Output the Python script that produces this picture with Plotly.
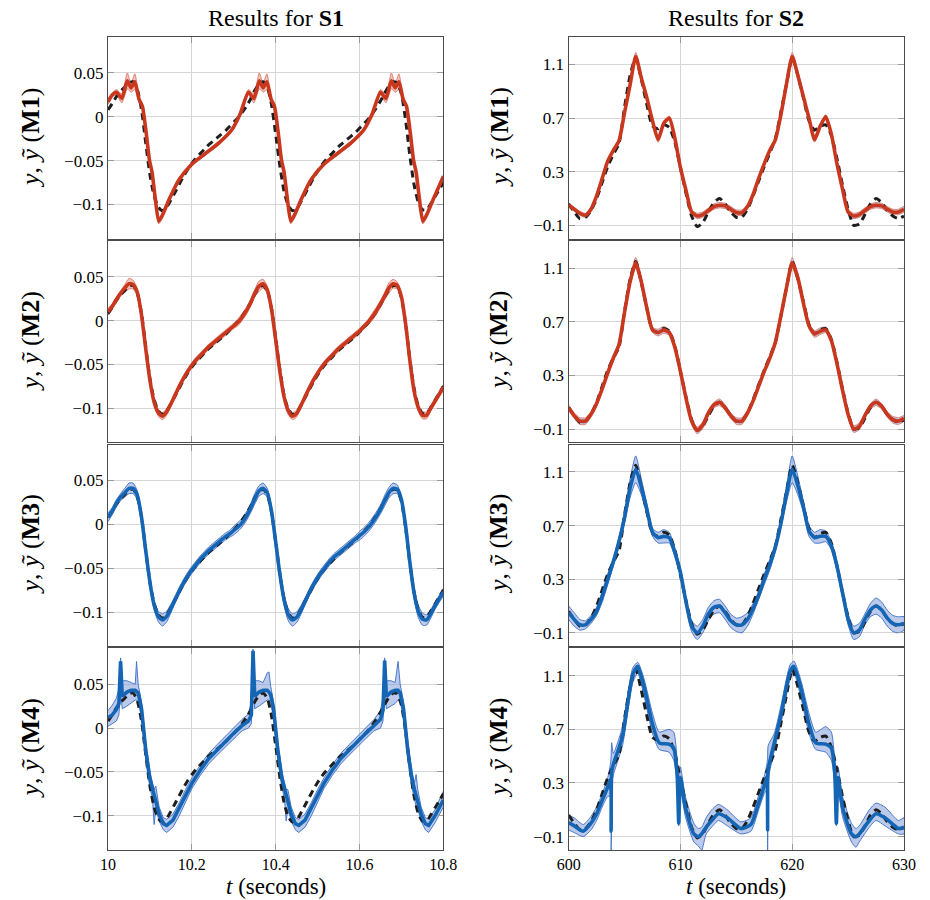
import plotly.graph_objects as go
from plotly.subplots import make_subplots

# ---------------- S1 (left column) ----------------
T_S1 = [10.00, 10.01, 10.02, 10.03, 10.04, 10.05, 10.06, 10.07, 10.08, 10.09,
        10.10, 10.11, 10.12, 10.13, 10.14, 10.15, 10.16, 10.17, 10.18, 10.19,
        10.20, 10.21, 10.22, 10.23, 10.24, 10.25, 10.26, 10.27, 10.28, 10.29,
        10.30, 10.31, 10.32, 10.33, 10.34, 10.35, 10.36, 10.37, 10.38, 10.39,
        10.40, 10.41, 10.42, 10.43, 10.44, 10.45, 10.46, 10.47, 10.48, 10.49,
        10.50, 10.51, 10.52, 10.53, 10.54, 10.55, 10.56, 10.57, 10.58, 10.59,
        10.60, 10.61, 10.62, 10.63, 10.64, 10.65, 10.66, 10.67, 10.68, 10.69,
        10.70, 10.71, 10.72, 10.73, 10.74, 10.75, 10.76, 10.77, 10.78, 10.79,
        10.80]

Y_TRUE_S1 = [0.008, 0.015, 0.023, 0.029, 0.034, 0.039, 0.040, 0.031, 0.008, -0.030,
             -0.066, -0.090, -0.103, -0.107, -0.103, -0.095, -0.086, -0.077, -0.068, -0.060,
             -0.053, -0.047, -0.042, -0.037, -0.032, -0.028, -0.024, -0.020, -0.016, -0.011,
             -0.006, -0.001, 0.005, 0.012, 0.020, 0.030, 0.037, 0.040, 0.034, 0.014,
             -0.020, -0.056, -0.085, -0.101, -0.107, -0.105, -0.097, -0.088, -0.079, -0.070,
             -0.062, -0.055, -0.049, -0.044, -0.039, -0.034, -0.030, -0.026, -0.022, -0.018,
             -0.013, -0.008, -0.003, 0.003, 0.010, 0.018, 0.027, 0.035, 0.040, 0.039,
             0.026, -0.004, -0.044, -0.077, -0.097, -0.106, -0.106, -0.099, -0.091, -0.083,
             -0.075]

# M1 on S1 (own time samples)
T_M1_S1 = [10.000, 10.010, 10.020, 10.033, 10.046, 10.055, 10.064, 10.074, 10.082, 10.091,
           10.099, 10.105, 10.113, 10.121, 10.130, 10.146, 10.169, 10.200, 10.232, 10.264,
           10.295, 10.315, 10.335, 10.348, 10.361, 10.370, 10.379, 10.389, 10.397, 10.406,
           10.414, 10.420, 10.428, 10.436, 10.445, 10.461, 10.484, 10.515, 10.547, 10.579,
           10.610, 10.630, 10.650, 10.663, 10.676, 10.685, 10.694, 10.704, 10.712, 10.721,
           10.729, 10.735, 10.743, 10.751, 10.760, 10.776, 10.800]
Y_M1_S1 = [0.017, 0.025, 0.028, 0.021, 0.041, 0.033, 0.040, 0.020, 0.012, -0.018,
           -0.050, -0.063, -0.094, -0.119, -0.112, -0.094, -0.072, -0.054, -0.042, -0.030,
           -0.015, 0.003, 0.028, 0.021, 0.041, 0.033, 0.040, 0.020, 0.012, -0.018,
           -0.050, -0.063, -0.094, -0.119, -0.112, -0.094, -0.072, -0.054, -0.042, -0.030,
           -0.015, 0.003, 0.028, 0.021, 0.041, 0.033, 0.040, 0.020, 0.012, -0.018,
           -0.050, -0.063, -0.094, -0.119, -0.112, -0.094, -0.068]
HW_M1_S1 = [0.003, 0.002, 0.003, 0.005, 0.009, 0.005, 0.009, 0.003, 0.002, 0.002,
            0.002, 0.002, 0.002, 0.003, 0.003, 0.002, 0.002, 0.002, 0.002, 0.002,
            0.002, 0.002, 0.003, 0.005, 0.009, 0.005, 0.009, 0.003, 0.002, 0.002,
            0.002, 0.002, 0.002, 0.003, 0.003, 0.002, 0.002, 0.002, 0.002, 0.002,
            0.002, 0.002, 0.003, 0.005, 0.009, 0.005, 0.009, 0.003, 0.002, 0.002,
            0.002, 0.002, 0.002, 0.003, 0.003, 0.002, 0.002]

Y_M2_S1 = [0.010, 0.016, 0.024, 0.031, 0.037, 0.042, 0.041, 0.032, 0.006, -0.032,
           -0.068, -0.093, -0.105, -0.109, -0.104, -0.095, -0.085, -0.075, -0.066, -0.058,
           -0.051, -0.045, -0.040, -0.035, -0.030, -0.026, -0.022, -0.018, -0.014, -0.010,
           -0.006, -0.002, 0.004, 0.011, 0.020, 0.031, 0.039, 0.042, 0.035, 0.013,
           -0.022, -0.058, -0.087, -0.103, -0.109, -0.106, -0.097, -0.087, -0.077, -0.068,
           -0.060, -0.053, -0.047, -0.042, -0.037, -0.032, -0.028, -0.024, -0.020, -0.016,
           -0.012, -0.007, -0.002, 0.004, 0.011, 0.019, 0.028, 0.037, 0.042, 0.040,
           0.027, -0.004, -0.045, -0.080, -0.099, -0.108, -0.108, -0.100, -0.092, -0.084,
           -0.076]
HW_M2_S1 = [0.004, 0.003, 0.003, 0.003, 0.004, 0.006, 0.005, 0.004, 0.003, 0.003,
            0.003, 0.003, 0.004, 0.004, 0.004, 0.003, 0.003, 0.003, 0.003, 0.003,
            0.003, 0.003, 0.003, 0.003, 0.003, 0.003, 0.003, 0.003, 0.003, 0.003,
            0.003, 0.004, 0.004, 0.004, 0.004, 0.004, 0.006, 0.005, 0.004, 0.003,
            0.003, 0.003, 0.003, 0.004, 0.004, 0.004, 0.003, 0.003, 0.003, 0.003,
            0.003, 0.003, 0.003, 0.003, 0.003, 0.003, 0.003, 0.003, 0.003, 0.003,
            0.003, 0.003, 0.003, 0.004, 0.004, 0.004, 0.004, 0.006, 0.005, 0.004,
            0.003, 0.003, 0.003, 0.003, 0.004, 0.004, 0.004, 0.003, 0.003, 0.003,
            0.003]

Y_M3_S1 = [0.008, 0.015, 0.024, 0.031, 0.036, 0.041, 0.041, 0.033, 0.008, -0.030,
           -0.066, -0.092, -0.105, -0.109, -0.105, -0.096, -0.086, -0.076, -0.067, -0.059,
           -0.052, -0.046, -0.040, -0.035, -0.030, -0.026, -0.022, -0.018, -0.014, -0.011,
           -0.007, -0.003, 0.002, 0.009, 0.018, 0.029, 0.038, 0.041, 0.036, 0.015,
           -0.020, -0.057, -0.086, -0.103, -0.109, -0.106, -0.098, -0.088, -0.078, -0.069,
           -0.061, -0.054, -0.048, -0.042, -0.037, -0.033, -0.029, -0.025, -0.021, -0.017,
           -0.013, -0.009, -0.004, 0.002, 0.009, 0.017, 0.027, 0.036, 0.041, 0.040,
           0.028, -0.002, -0.043, -0.078, -0.099, -0.108, -0.109, -0.102, -0.093, -0.085,
           -0.077]
HW_M3_S1 = [0.005, 0.004, 0.004, 0.004, 0.005, 0.006, 0.006, 0.005, 0.004, 0.004,
            0.004, 0.005, 0.006, 0.007, 0.006, 0.005, 0.004, 0.004, 0.004, 0.004,
            0.004, 0.004, 0.004, 0.004, 0.004, 0.004, 0.004, 0.004, 0.004, 0.004,
            0.005, 0.005, 0.005, 0.005, 0.005, 0.006, 0.006, 0.006, 0.005, 0.004,
            0.004, 0.005, 0.006, 0.007, 0.007, 0.006, 0.005, 0.004, 0.004, 0.004,
            0.004, 0.004, 0.004, 0.004, 0.004, 0.004, 0.004, 0.004, 0.004, 0.004,
            0.005, 0.005, 0.005, 0.005, 0.005, 0.005, 0.006, 0.006, 0.006, 0.005,
            0.004, 0.004, 0.005, 0.006, 0.007, 0.007, 0.006, 0.005, 0.004, 0.004,
            0.004]

# M4 on S1 (own samples, with spikes)
T_M4_S1 = [10.000, 10.010, 10.020, 10.026, 10.030, 10.034, 10.045, 10.055, 10.065, 10.068,
           10.072, 10.080, 10.090, 10.100, 10.106, 10.110, 10.114, 10.122, 10.132, 10.140,
           10.155, 10.170, 10.185, 10.200, 10.220, 10.240, 10.260, 10.280, 10.300, 10.320,
           10.335, 10.342, 10.346, 10.350, 10.360, 10.370, 10.380, 10.384, 10.388, 10.395,
           10.405, 10.415, 10.421, 10.425, 10.429, 10.437, 10.447, 10.455, 10.470, 10.485,
           10.500, 10.515, 10.535, 10.555, 10.575, 10.595, 10.615, 10.635, 10.650, 10.656,
           10.660, 10.664, 10.675, 10.685, 10.692, 10.697, 10.705, 10.715, 10.725, 10.731,
           10.735, 10.739, 10.747, 10.757, 10.765, 10.780, 10.800]
Y_M4_S1 = [0.012, 0.015, 0.021, 0.028, 0.076, 0.036, 0.041, 0.043, 0.043, 0.042,
           0.040, 0.022, -0.025, -0.058, -0.070, -0.078, -0.085, -0.098, -0.109, -0.111,
           -0.105, -0.092, -0.077, -0.063, -0.048, -0.035, -0.025, -0.015, -0.006, 0.003,
           0.008, 0.015, 0.088, 0.036, 0.041, 0.043, 0.043, 0.041, 0.038, 0.022,
           -0.025, -0.058, -0.070, -0.078, -0.085, -0.098, -0.109, -0.111, -0.105, -0.092,
           -0.077, -0.063, -0.048, -0.035, -0.025, -0.015, -0.006, 0.003, 0.010, 0.020,
           0.077, 0.036, 0.041, 0.043, 0.043, 0.040, 0.022, -0.025, -0.058, -0.070,
           -0.078, -0.085, -0.098, -0.109, -0.111, -0.100, -0.082]
LO_M4_S1 = [0.002, 0.005, 0.008, 0.015, 0.040, 0.022, 0.025, 0.028, 0.032, 0.032,
            0.030, 0.012, -0.035, -0.068, -0.080, -0.110, -0.092, -0.106, -0.116, -0.119,
            -0.113, -0.100, -0.084, -0.069, -0.054, -0.041, -0.031, -0.021, -0.012, -0.003,
            0.000, 0.005, 0.050, 0.022, 0.025, 0.028, 0.032, 0.032, 0.028, 0.012,
            -0.035, -0.068, -0.080, -0.106, -0.092, -0.106, -0.116, -0.119, -0.113, -0.100,
            -0.084, -0.069, -0.054, -0.041, -0.031, -0.021, -0.012, -0.003, 0.000, 0.008,
            0.045, 0.022, 0.025, 0.028, 0.032, 0.030, 0.012, -0.035, -0.068, -0.080,
            -0.090, -0.092, -0.106, -0.116, -0.119, -0.108, -0.090]
HI_M4_S1 = [0.020, 0.026, 0.034, 0.045, 0.080, 0.054, 0.054, 0.052, 0.050, 0.076,
            0.050, 0.030, -0.015, -0.050, -0.062, -0.070, -0.066, -0.090, -0.102, -0.104,
            -0.098, -0.085, -0.070, -0.057, -0.042, -0.029, -0.019, -0.009, 0.000, 0.010,
            0.016, 0.030, 0.090, 0.054, 0.054, 0.052, 0.063, 0.064, 0.048, 0.030,
            -0.015, -0.050, -0.062, -0.070, -0.070, -0.090, -0.102, -0.104, -0.098, -0.085,
            -0.070, -0.057, -0.042, -0.029, -0.019, -0.009, 0.000, 0.010, 0.020, 0.035,
            0.080, 0.054, 0.054, 0.052, 0.076, 0.050, 0.030, -0.015, -0.050, -0.062,
            -0.053, -0.070, -0.090, -0.102, -0.104, -0.093, -0.072]

# ---------------- S2 (right column) ----------------
T_S2 = [600.0, 600.5, 601.0, 601.5, 602.0, 602.5, 603.0, 603.5, 604.0, 604.5,
        605.0, 605.5, 606.0, 606.5, 607.0, 607.5, 608.0, 608.5, 609.0, 609.5,
        610.0, 610.5, 611.0, 611.5, 612.0, 612.5, 613.0, 613.5, 614.0, 614.5,
        615.0, 615.5, 616.0, 616.5, 617.0, 617.5, 618.0, 618.5, 619.0, 619.5,
        620.0, 620.5, 621.0, 621.5, 622.0, 622.5, 623.0, 623.5, 624.0, 624.5,
        625.0, 625.5, 626.0, 626.5, 627.0, 627.5, 628.0, 628.5, 629.0, 629.5,
        630.0]

Y_TRUE_S2 = [0.06, 0.00, -0.05, -0.04, 0.01, 0.10, 0.22, 0.34, 0.43, 0.51,
             0.78, 1.02, 1.15, 0.99, 0.80, 0.64, 0.62, 0.65, 0.63, 0.52,
             0.33, 0.14, -0.03, -0.11, -0.08, 0.00, 0.07, 0.10, 0.06, 0.00,
             -0.04, -0.04, 0.02, 0.12, 0.23, 0.34, 0.44, 0.55, 0.75, 0.96,
             1.15, 1.02, 0.85, 0.68, 0.61, 0.64, 0.65, 0.57, 0.40, 0.20,
             0.02, -0.10, -0.09, -0.02, 0.06, 0.10, 0.07, 0.01, -0.03, -0.05,
             -0.03]

Y_M1_S2 = [0.05, 0.02, -0.01, -0.025, 0.02, 0.12, 0.25, 0.38, 0.46, 0.53,
           0.74, 0.95, 1.16, 1.00, 0.85, 0.68, 0.54, 0.66, 0.70, 0.55,
           0.33, 0.16, 0.00, -0.03, -0.02, 0.01, 0.04, 0.05, 0.045, 0.02,
           -0.005, -0.005, 0.04, 0.13, 0.25, 0.36, 0.46, 0.54, 0.73, 0.96,
           1.16, 1.02, 0.86, 0.70, 0.54, 0.64, 0.71, 0.58, 0.36, 0.17,
           0.00, -0.03, -0.02, 0.01, 0.04, 0.05, 0.045, 0.02, 0.00, 0.00,
           0.02]
HW_M1_S2 = [0.015, 0.015, 0.015, 0.015, 0.015, 0.015, 0.015, 0.015, 0.015, 0.015,
            0.02, 0.025, 0.03, 0.025, 0.02, 0.015, 0.02, 0.015, 0.015, 0.015,
            0.015, 0.015, 0.015, 0.02, 0.02, 0.02, 0.02, 0.02, 0.02, 0.02,
            0.02, 0.02, 0.015, 0.015, 0.015, 0.015, 0.015, 0.015, 0.015, 0.02,
            0.03, 0.025, 0.02, 0.015, 0.02, 0.015, 0.015, 0.015, 0.015, 0.015,
            0.015, 0.02, 0.02, 0.02, 0.02, 0.02, 0.02, 0.02, 0.02, 0.02,
            0.02]

Y_M2_S2 = [0.06, 0.00, -0.04, -0.04, 0.01, 0.09, 0.20, 0.32, 0.43, 0.53,
           0.77, 1.00, 1.14, 1.00, 0.80, 0.64, 0.62, 0.64, 0.62, 0.51,
           0.33, 0.13, -0.04, -0.11, -0.07, 0.02, 0.08, 0.10, 0.06, 0.00,
           -0.04, -0.04, 0.02, 0.11, 0.22, 0.33, 0.43, 0.55, 0.75, 0.96,
           1.14, 1.03, 0.84, 0.67, 0.61, 0.63, 0.64, 0.56, 0.39, 0.19,
           0.01, -0.10, -0.08, 0.00, 0.07, 0.10, 0.07, 0.01, -0.03, -0.04,
           -0.02]
HW_M2_S2 = [0.02, 0.02, 0.025, 0.025, 0.02, 0.02, 0.02, 0.02, 0.02, 0.02,
            0.02, 0.03, 0.04, 0.03, 0.02, 0.02, 0.025, 0.025, 0.02, 0.02,
            0.02, 0.02, 0.02, 0.025, 0.025, 0.02, 0.02, 0.025, 0.02, 0.02,
            0.025, 0.025, 0.02, 0.02, 0.02, 0.02, 0.02, 0.02, 0.02, 0.03,
            0.04, 0.03, 0.02, 0.02, 0.025, 0.025, 0.02, 0.02, 0.02, 0.02,
            0.02, 0.025, 0.025, 0.02, 0.02, 0.025, 0.02, 0.02, 0.025, 0.025,
            0.02]

Y_M3_S2 = [0.05, 0.00, -0.04, -0.04, 0.00, 0.06, 0.17, 0.30, 0.43, 0.58,
           0.76, 0.98, 1.12, 0.99, 0.82, 0.65, 0.61, 0.62, 0.61, 0.50,
           0.35, 0.13, -0.05, -0.10, -0.05, 0.04, 0.09, 0.10, 0.05, -0.01,
           -0.04, -0.04, 0.00, 0.08, 0.18, 0.30, 0.41, 0.54, 0.72, 0.94,
           1.12, 1.00, 0.84, 0.66, 0.61, 0.62, 0.62, 0.55, 0.40, 0.20,
           0.00, -0.10, -0.08, 0.00, 0.07, 0.10, 0.07, 0.01, -0.03, -0.04,
           -0.03]
HW_M3_S2 = [0.05, 0.05, 0.04, 0.03, 0.03, 0.03, 0.04, 0.04, 0.03, 0.03,
            0.04, 0.07, 0.10, 0.06, 0.04, 0.03, 0.04, 0.05, 0.04, 0.03,
            0.03, 0.03, 0.04, 0.05, 0.05, 0.05, 0.05, 0.05, 0.05, 0.05,
            0.05, 0.06, 0.05, 0.04, 0.03, 0.04, 0.04, 0.03, 0.03, 0.06,
            0.10, 0.07, 0.04, 0.04, 0.04, 0.05, 0.04, 0.03, 0.03, 0.03,
            0.04, 0.05, 0.05, 0.04, 0.05, 0.06, 0.06, 0.06, 0.06, 0.06,
            0.05]

T_M4_S2 = [600.0, 600.5, 601.3, 602.0, 602.5, 603.0, 603.5, 603.75, 603.8, 603.85,
           604.0, 604.5, 604.85, 605.3, 605.74, 606.18, 606.77, 607.5, 608.1, 608.97,
           609.4, 609.7, 609.85, 610.0, 610.44, 611.2, 611.6, 611.9, 612.3, 612.8,
           613.4, 614.2, 615.4, 616.3, 617.0, 617.5, 617.75, 617.8, 617.85, 618.4,
           619.0, 619.8, 620.15, 620.8, 621.5, 622.1, 623.0, 623.5, 623.8, 623.95,
           624.1, 624.5, 625.3, 625.7, 626.0, 626.9, 627.5, 628.3, 629.5, 630.0]
Y_M4_S2 = [0.005, -0.02, -0.06, 0.00, 0.07, 0.17, 0.27, 0.33, -0.06, 0.38,
           0.44, 0.56, 0.66, 0.90, 1.11, 1.17, 1.01, 0.74, 0.60, 0.59,
           0.56, 0.37, 0.00, 0.34, 0.12, -0.08, -0.10, -0.08, -0.03, 0.02,
           0.07, 0.04, -0.04, -0.01, 0.15, 0.28, 0.35, -0.05, 0.40, 0.60,
           0.81, 1.13, 1.17, 1.00, 0.74, 0.60, 0.59, 0.56, 0.38, 0.00,
           0.34, 0.12, -0.08, -0.10, -0.08, 0.02, 0.07, 0.04, -0.04, -0.03]
LO_M4_S2 = [-0.05, -0.07, -0.10, -0.05, 0.02, 0.12, 0.20, 0.20, -0.20, 0.28,
            0.36, 0.49, 0.59, 0.84, 1.05, 1.12, 0.94, 0.67, 0.55, 0.53,
            0.47, 0.30, -0.02, 0.25, 0.05, -0.14, -0.17, -0.20, -0.08, -0.03,
            0.02, -0.02, -0.08, -0.06, 0.10, 0.22, 0.25, -0.20, 0.32, 0.54,
            0.75, 1.07, 1.12, 0.93, 0.67, 0.55, 0.53, 0.47, 0.30, -0.02,
            0.25, 0.05, -0.14, -0.18, -0.14, -0.03, 0.02, -0.02, -0.08, -0.08]
HI_M4_S2 = [0.06, 0.04, -0.01, 0.05, 0.12, 0.22, 0.34, 0.45, 0.50, 0.60,
            0.52, 0.63, 0.73, 0.97, 1.16, 1.20, 1.07, 0.82, 0.68, 0.70,
            0.68, 0.48, 0.35, 0.42, 0.20, 0.00, -0.04, -0.03, 0.04, 0.10,
            0.14, 0.10, 0.01, 0.04, 0.21, 0.35, 0.45, 0.50, 0.58, 0.67,
            0.88, 1.18, 1.21, 1.06, 0.82, 0.68, 0.72, 0.68, 0.48, 0.35,
            0.42, 0.20, 0.00, -0.04, -0.02, 0.10, 0.15, 0.12, 0.02, 0.04]

# ---------------- axes / labels ----------------
S1_TICKS = [0.05, 0, -0.05, -0.1]
S1_TICKTEXT = ["0.05", "0", "\u22120.05", "\u22120.1"]
S2_TICKS = [1.1, 0.7, 0.3, -0.1]
S2_TICKTEXT = ["1.1", "0.7", "0.3", "\u22120.1"]
X1_TICKS = [10, 10.2, 10.4, 10.6, 10.8]
X1_TICKTEXT = ["10", "10.2", "10.4", "10.6", "10.8"]
X2_TICKS = [600, 610, 620, 630]
MODELS = ["M1", "M2", "M3", "M4"]
SIGNALS = ["S1", "S2"]

for arr, n in [(Y_TRUE_S1, 81), (Y_M2_S1, 81), (HW_M2_S1, 81), (Y_M3_S1, 81), (HW_M3_S1, 81),
               (Y_M1_S1, 57), (HW_M1_S1, 57), (Y_M4_S1, len(T_M4_S1)), (LO_M4_S1, len(T_M4_S1)),
               (HI_M4_S1, len(T_M4_S1)), (Y_TRUE_S2, 61), (Y_M1_S2, 61), (HW_M1_S2, 61),
               (Y_M2_S2, 61), (HW_M2_S2, 61), (Y_M3_S2, 61), (HW_M3_S2, 61),
               (Y_M4_S2, len(T_M4_S2)), (LO_M4_S2, len(T_M4_S2)), (HI_M4_S2, len(T_M4_S2))]:
    assert len(arr) == n, (len(arr), n)
assert len(T_S1) == 81 and len(T_M1_S1) == 57 and len(T_S2) == 61

RED = "#c9381e"
BLUE = "#1565b5"
FONT = "Liberation Serif, Times New Roman, DejaVu Serif, serif"

fig = make_subplots(rows=4, cols=2, horizontal_spacing=0.1574, vertical_spacing=0.0025)


def lohi(pred, hw):
    return [p - h for p, h in zip(pred, hw)], [p + h for p, h in zip(pred, hw)]


def panel(r, c, t_true, y_true, t_p, y_p, lo, hi, color, fillc, edgec, shape):
    fig.add_trace(go.Scatter(x=list(t_p) + list(t_p)[::-1], y=list(hi) + list(lo)[::-1],
                             fill="toself", fillcolor=fillc, mode="lines",
                             line=dict(color=edgec, width=1, shape=shape, smoothing=0.6),
                             hoverinfo="skip", showlegend=False), row=r, col=c)
    fig.add_trace(go.Scatter(x=t_true, y=y_true, mode="lines",
                             line=dict(color="#1e1e1e", width=3, dash="7px,5px",
                                       shape="spline", smoothing=0.6),
                             showlegend=False), row=r, col=c)
    fig.add_trace(go.Scatter(x=t_p, y=y_p, mode="lines",
                             line=dict(color=color, width=3.6, shape=shape, smoothing=0.6),
                             showlegend=False), row=r, col=c)


RED_FILL_L = "rgba(232,150,130,0.55)"
RED_EDGE = "rgba(222,115,95,0.85)"
RED_FILL_R = "rgba(180,192,232,0.85)"
BLUE_FILL = "rgba(120,150,215,0.5)"
BLUE_EDGE = "rgba(60,110,200,0.9)"

lo, hi = lohi(Y_M1_S1, HW_M1_S1)
panel(1, 1, T_S1, Y_TRUE_S1, T_M1_S1, Y_M1_S1, lo, hi, RED, RED_FILL_L, RED_EDGE, "spline")
lo, hi = lohi(Y_M2_S1, HW_M2_S1)
panel(2, 1, T_S1, Y_TRUE_S1, T_S1, Y_M2_S1, lo, hi, RED, RED_FILL_L, RED_EDGE, "spline")
lo, hi = lohi(Y_M3_S1, HW_M3_S1)
panel(3, 1, T_S1, Y_TRUE_S1, T_S1, Y_M3_S1, lo, hi, BLUE, BLUE_FILL, BLUE_EDGE, "spline")
panel(4, 1, T_S1, Y_TRUE_S1, T_M4_S1, Y_M4_S1, LO_M4_S1, HI_M4_S1, BLUE, BLUE_FILL, BLUE_EDGE, "linear")

lo, hi = lohi(Y_M1_S2, HW_M1_S2)
panel(1, 2, T_S2, Y_TRUE_S2, T_S2, Y_M1_S2, lo, hi, RED, RED_FILL_R, RED_EDGE, "spline")
lo, hi = lohi(Y_M2_S2, HW_M2_S2)
panel(2, 2, T_S2, Y_TRUE_S2, T_S2, Y_M2_S2, lo, hi, RED, RED_FILL_R, RED_EDGE, "spline")
lo, hi = lohi(Y_M3_S2, HW_M3_S2)
panel(3, 2, T_S2, Y_TRUE_S2, T_S2, Y_M3_S2, lo, hi, BLUE, BLUE_FILL, BLUE_EDGE, "spline")
panel(4, 2, T_S2, Y_TRUE_S2, T_M4_S2, Y_M4_S2, LO_M4_S2, HI_M4_S2, BLUE, BLUE_FILL, BLUE_EDGE, "spline")

axis_common = dict(showline=True, linecolor="#4a4a4a", linewidth=1.3, mirror="ticks",
                   showgrid=True, gridcolor="#d6d6d6", gridwidth=1, zeroline=False,
                   ticks="inside", ticklen=6, tickcolor="#9a9a9a")
ytickfont = dict(family=FONT, size=17, color="black")
xtickfont = dict(family=FONT, size=16, color="black")

for r in range(1, 5):
    fig.update_xaxes(range=[10, 10.8], tickvals=X1_TICKS, ticktext=X1_TICKTEXT,
                     showticklabels=(r == 4), tickfont=xtickfont, row=r, col=1, **axis_common)
    fig.update_xaxes(range=[600, 630], tickvals=X2_TICKS,
                     showticklabels=(r == 4), tickfont=xtickfont, row=r, col=2, **axis_common)
    fig.update_yaxes(range=[-0.139, 0.091], tickvals=S1_TICKS, ticktext=S1_TICKTEXT,
                     tickfont=ytickfont, row=r, col=1, **axis_common)
    fig.update_yaxes(range=[-0.2, 1.305], tickvals=S2_TICKS, ticktext=S2_TICKTEXT,
                     tickfont=ytickfont, row=r, col=2, **axis_common)

W, H = 930, 900
ML, MR, MT, MB = 108, 15, 37, 50
PW, PH = W - ML - MR, H - MT - MB


def px_x(p):
    return (p - ML) / PW


def px_y(p):
    return (H - MB - p) / PH


ann = []
col_centers = [278, 745]
for ci, s in enumerate(SIGNALS):
    ann.append(dict(text="Results for <b>%s</b>" % s, x=px_x(col_centers[ci]), y=px_y(18),
                    xref="paper", yref="paper", showarrow=False, xanchor="center",
                    yanchor="middle", font=dict(family=FONT, size=24, color="black")))
    ann.append(dict(text="<i>t</i> (seconds)", x=px_x(col_centers[ci]), y=px_y(900),
                    xref="paper", yref="paper", showarrow=False, xanchor="center",
                    yanchor="bottom", borderpad=0,
                    font=dict(family=FONT, size=23, color="black")))
row_centers = [138, 341.5, 544.5, 748.5]
label_x = [29, 504]
for ri, m in enumerate(MODELS):
    for ci in range(2):
        ann.append(dict(text="<i>y</i>, <i>\u1ef9</i> (<b>%s</b>)" % m,
                        x=px_x(label_x[ci]), y=px_y(row_centers[ri]),
                        xref="paper", yref="paper", showarrow=False, textangle=-90,
                        xanchor="center", yanchor="middle",
                        font=dict(family=FONT, size=26, color="black")))

fig.update_layout(width=W, height=H, margin=dict(l=ML, r=MR, t=MT, b=MB),
                  plot_bgcolor="white", paper_bgcolor="white", annotations=ann,
                  showlegend=False, font=dict(family=FONT))

fig.write_html("out.html", config={"displayModeBar": False},
               post_script="document.body.style.margin='0px';document.body.style.overflow='hidden';")
